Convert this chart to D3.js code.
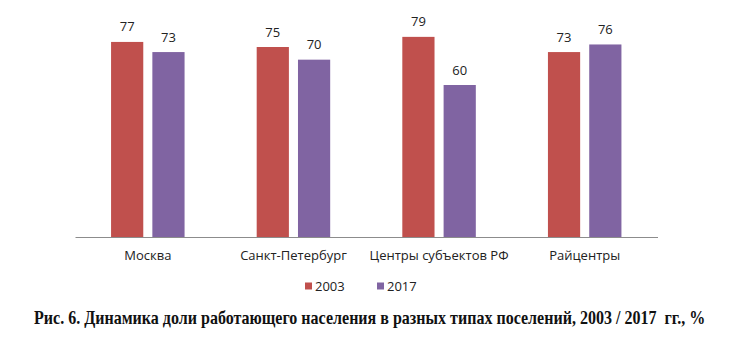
<!DOCTYPE html>
<html>
<head>
<meta charset="utf-8">
<script src="https://cdn.jsdelivr.net/npm/d3@7"></script>
<style>
  html, body { margin: 0; padding: 0; background: #fff; }
  svg { display: block; }
</style>
</head>
<body>
<svg id="chart" width="737" height="337"></svg>
<script>
// Share of working population by settlement type, %
const categories = ["Москва", "Санкт-Петербург", "Центры субъектов РФ", "Райцентры"];
const seriesNames = ["2003", "2017"];
const values2003 = [77, 75, 79, 73];
const values2017 = [73, 70, 60, 76];
const seriesColors = ["#C0504D", "#8064A2"];
const caption = "Рис. 6. Динамика доли работающего населения в разных типах поселений, 2003 / 2017  гг., %";

const svg = d3.select("#chart");
const font = "'Open Sans', 'Noto Sans', sans-serif";

const data = categories.map((c, i) => ({
  category: c,
  values: [values2003[i], values2017[i]]
}));

const plot = { left: 75, right: 657.5, top: 9, bottom: 237 };

const x0 = d3.scaleBand()
  .domain(categories)
  .range([plot.left, plot.right])
  .paddingInner(0)
  .paddingOuter(0);

const x1 = d3.scaleBand()
  .domain(seriesNames)
  .range([0, 73.5])
  .paddingInner(0.22)
  .paddingOuter(0);

const y = d3.scaleLinear()
  .domain([0, 90])
  .range([plot.bottom, plot.top]);

const groupOffset = (x0.bandwidth() - 73.5) / 2;

const groups = svg.append("g")
  .selectAll("g")
  .data(data)
  .join("g")
  .attr("transform", d => `translate(${x0(d.category) + groupOffset},0)`);

groups.selectAll("rect")
  .data(d => d.values.map((v, i) => ({ key: seriesNames[i], value: v, idx: i })))
  .join("rect")
  .attr("x", d => x1(d.key))
  .attr("y", d => y(d.value))
  .attr("width", x1.bandwidth())
  .attr("height", d => y(0) - y(d.value))
  .attr("fill", d => seriesColors[d.idx]);

groups.selectAll("text.val")
  .data(d => d.values.map((v, i) => ({ key: seriesNames[i], value: v })))
  .join("text")
  .attr("class", "val")
  .attr("x", d => x1(d.key) + x1.bandwidth() / 2)
  .attr("y", d => y(d.value) - 10.5)
  .attr("text-anchor", "middle")
  .attr("font-family", font)
  .attr("font-size", 13)
  .attr("fill", "#222")
  .text(d => d.value);

// baseline axis with category labels
const xAxis = d3.axisBottom(x0).tickSize(0).tickPadding(14);
const axisG = svg.append("g")
  .attr("transform", `translate(0,${plot.bottom})`)
  .call(xAxis);
axisG.select(".domain").attr("stroke", "#8c8c8c").attr("stroke-width", 1);
axisG.selectAll("text")
  .attr("font-family", font)
  .attr("font-size", 13)
  .attr("fill", "#222");

// legend
const legendItems = [
  { name: seriesNames[0], color: seriesColors[0], x: 305 },
  { name: seriesNames[1], color: seriesColors[1], x: 377 }
];
const legend = svg.append("g");
legend.selectAll("rect")
  .data(legendItems)
  .join("rect")
  .attr("x", d => d.x)
  .attr("y", 282.5)
  .attr("width", 7)
  .attr("height", 7)
  .attr("fill", d => d.color);
legend.selectAll("text")
  .data(legendItems)
  .join("text")
  .attr("x", d => d.x + 10)
  .attr("y", 290.5)
  .attr("font-family", font)
  .attr("font-size", 13)
  .attr("fill", "#222")
  .text(d => d.name);

// figure caption: narrowed horizontally to fit the caption width
const captionLeft = 34, captionWidth = 672;
const capG = svg.append("g");
const capText = capG.append("text")
  .attr("x", 0)
  .attr("y", 0)
  .attr("font-family", "'Liberation Serif', 'DejaVu Serif', serif")
  .attr("font-weight", "bold")
  .attr("font-size", 18)
  .attr("fill", "#111")
  .style("white-space", "pre")
  .text(caption);
const natural = capText.node().getComputedTextLength();
capG.attr("transform", `translate(${captionLeft},323.5) scale(${captionWidth / natural},1)`);
</script>
</body>
</html>
